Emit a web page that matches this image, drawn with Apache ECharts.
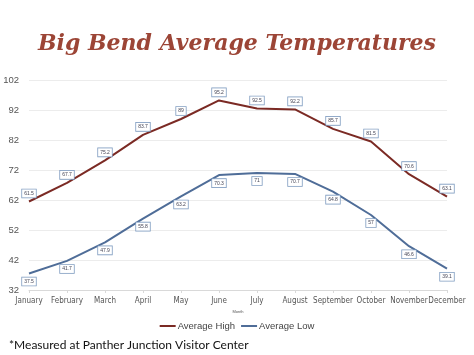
<!DOCTYPE html>
<html><head><meta charset="utf-8">
<script src="https://cdn.jsdelivr.net/npm/echarts@6/dist/echarts.min.js"></script>
<style>html,body{margin:0;padding:0;background:#fff}#c{width:474px;height:355px}</style>
</head><body><div id="c"></div>
<script>
const months = ['January','February','March','April','May','June','July','August','September','October','November','December'];
const avgHigh = [61.5, 67.7, 75.2, 83.7, 89, 95.2, 92.5, 92.2, 85.7, 81.5, 70.6, 63.1];
const avgLow = [37.5, 41.7, 47.9, 55.8, 63.2, 70.3, 71, 70.7, 64.8, 57, 46.6, 39.1];
const titleText = 'Big Bend Average Temperatures';
const footnote = '*Measured at Panther Junction Visitor Center';

const chart = echarts.init(document.getElementById('c'), null, {renderer:'canvas'});
const lbl = (pos) => ({
  show: true, position: pos, distance: 4,
  fontSize: 5, color: '#445', fontFamily: 'Liberation Sans',
  borderColor: '#7f9cc0', borderWidth: 0.8, padding: [1.5, 2],
  backgroundColor: '#fff'
});
chart.setOption({
  animation: false,
  title: [{
    text: titleText, left: 'center', top: 28,
    textStyle: {fontFamily: 'DejaVu Serif', fontStyle: 'italic', fontWeight: 'bold',
      fontSize: 22, color: '#9c4536',
      textShadowColor: '#e9b8a6', textShadowOffsetX: 2, textShadowOffsetY: 2, textShadowBlur: 0}
  }, {
    text: footnote, left: 4, top: 334,
    textStyle: {fontFamily: 'Lato', fontWeight: 'normal', fontSize: 12, color: '#111'}
  }],
  legend: {
    bottom: 19, left: 'center', itemWidth: 16, itemHeight: 2, itemGap: 6,
    icon: 'rect',
    textStyle: {fontFamily: 'Liberation Sans', fontSize: 9.5, color: '#444', padding: [0,0,0,-3]},
    data: ['Average High', 'Average Low']
  },
  grid: {left: 29, right: 27, top: 80, bottom: 65},
  xAxis: {
    type: 'category', data: months, boundaryGap: false,
    name: 'Month', nameLocation: 'middle', nameGap: 20,
    nameTextStyle: {fontSize: 4, color: '#555'},
    axisLine: {lineStyle: {color: '#d9d9d9'}},
    axisTick: {show: true, lineStyle: {color: '#d9d9d9'}, length: 3},
    axisLabel: {fontFamily: 'DejaVu Sans Condensed, Liberation Sans', fontSize: 8, color: '#555', margin: 7, interval: 0}
  },
  yAxis: {
    type: 'value', min: 32, max: 102, interval: 10,
    axisLine: {show: false}, axisTick: {show: false},
    splitLine: {lineStyle: {color: '#ececec'}},
    axisLabel: {fontFamily: 'Liberation Sans', fontSize: 9.5, color: '#555', margin: 10}
  },
  series: [{
    name: 'Average High', type: 'line', data: avgHigh, symbol: 'circle', symbolSize: 0.1, showSymbol: true,
    lineStyle: {color: '#7b2a24', width: 2}, itemStyle: {color: '#7b2a24'},
    label: lbl('top'), z: 3
  }, {
    name: 'Average Low', type: 'line', data: avgLow, symbol: 'circle', symbolSize: 0.1, showSymbol: true,
    lineStyle: {color: '#4f6d98', width: 2}, itemStyle: {color: '#4f6d98'},
    label: lbl('bottom'), z: 3
  }]
});
</script></body></html>
